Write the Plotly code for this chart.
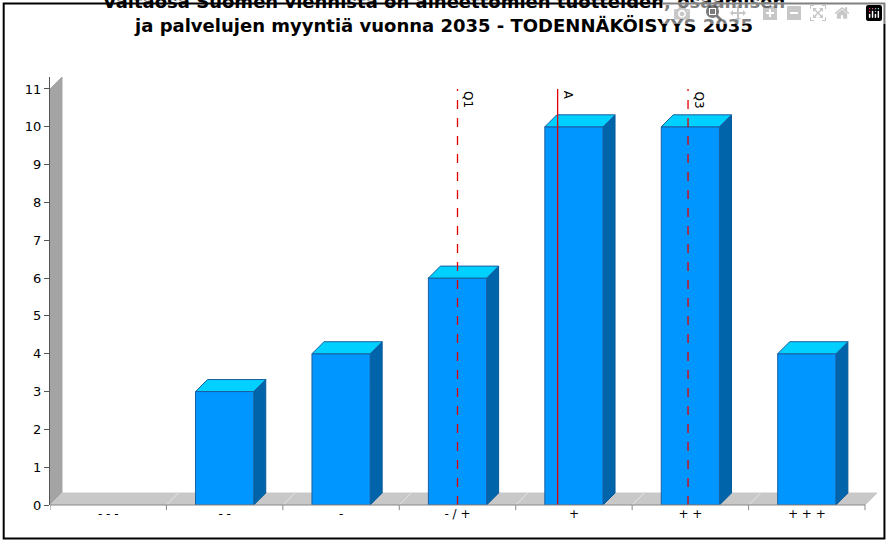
import plotly.graph_objects as go

categories = ["- - -", "- -", "-", "- / +", "+", "+ +", "+ + +"]
values = [0, 3, 4, 6, 10, 10, 4]
marker_names = ["Q1", "A", "Q3"]
marker_pos = [3.0, 3.86, 4.98]
marker_dash = ["dash", "solid", "dash"]

D, DY, W = 0.103, 0.317, 0.25
fig = go.Figure()

def poly(xs, ys, color, line=None):
    fig.add_trace(go.Scatter(x=xs, y=ys, fill="toself", fillcolor=color, mode="lines",
                             line=dict(color=line or color, width=1), hoverinfo="skip", showlegend=False))

n = len(categories)
poly([-0.5, -0.5 + D, -0.5 + D, -0.5, -0.5], [0, DY, 11 + DY, 11, 0], "#a4a4a4")
poly([-0.5, n - 0.5, n - 0.5 + D, -0.5 + D, -0.5], [0, 0, DY, DY, 0], "#c8c8c8")
for k in range(1, n):
    b = k - 0.5
    fig.add_trace(go.Scatter(x=[b, b + D], y=[0, DY], mode="lines", line=dict(color="#e6e6e6", width=1),
                             hoverinfo="skip", showlegend=False))

fx, fy, tx, ty, sx, sy = [], [], [], [], [], []
for i, v in enumerate(values):
    if v <= 0:
        continue
    fx += [i - W, i + W, i + W, i - W, i - W, None]; fy += [0, 0, v, v, 0, None]
    tx += [i - W, i + W, i + W + D, i - W + D, i - W, None]; ty += [v, v, v + DY, v + DY, v, None]
    sx += [i + W, i + W + D, i + W + D, i + W, i + W, None]; sy += [0, DY, v + DY, v, 0, None]
poly(sx, sy, "#0064aa", "#005a99")
poly(fx, fy, "#0096ff", "#1a5fa0")
poly(tx, ty, "#00d0ff", "#1a5fa0")

for name, p, dsh in zip(marker_names, marker_pos, marker_dash):
    fig.add_trace(go.Scatter(x=[p, p], y=[0, 11], mode="lines", line=dict(color="#e00000", width=1.3, dash=dsh),
                             hoverinfo="skip", showlegend=False))
    fig.add_annotation(x=p, y=11, text=name, textangle=90, showarrow=False, xanchor="left", yanchor="top",
                       xshift=1, font=dict(size=12, color="black"))

shapes = [dict(type="line", xref="x", yref="paper", x0=-0.5, x1=n - 0.5, y0=0, y1=0, line=dict(color="#888", width=1))]
for k in range(n + 1):
    shapes.append(dict(type="line", xref="x", yref="paper", x0=k - 0.5, x1=k - 0.5, y0=0, y1=-0.012,
                       line=dict(color="#888", width=1)))
shapes.append(dict(type="rect", xref="paper", yref="paper", x0=-0.056, x1=1.009, y0=-0.078, y1=1.172,
                   line=dict(color="black", width=2)))

fig.update_layout(
    width=888, height=541, margin=dict(l=50, r=11, t=77, b=36),
    paper_bgcolor="white", plot_bgcolor="white",
    font=dict(family="DejaVu Sans", size=13, color="black"),
    title=dict(text="<b>Valtaosa Suomen viennistä on aineettomien tuotteiden, osaamisen<br>ja palvelujen myyntiä vuonna 2035 - TODENNÄKÖISYYS 2035</b>",
               x=0.5, xanchor="center", y=0.985, yanchor="top", font=dict(size=18)),
    xaxis=dict(range=[-0.5, n - 0.5 + D], tickvals=list(range(n)), ticktext=categories, ticks="",
               showgrid=False, zeroline=False, showline=False, tickfont=dict(size=12)),
    yaxis=dict(range=[0, 11 + DY], tickvals=list(range(12)), ticks="outside", ticklen=5, tickcolor="#555",
               showgrid=False, zeroline=False, showline=True, linecolor="#555", tickfont=dict(size=13)),
    shapes=shapes,
)
fig.write_html("out.html", post_script="document.body.style.margin='0';document.body.style.padding='0';")
